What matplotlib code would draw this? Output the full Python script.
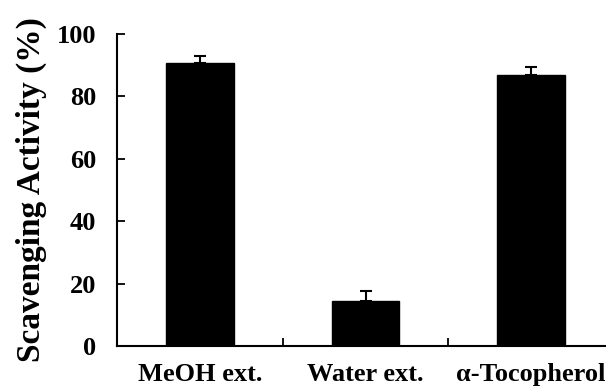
import numpy as np
import matplotlib.pyplot as plt

plt.rcParams['font.family'] = 'Liberation Serif'
plt.rcParams['font.weight'] = 'bold'

# Data
categories = ['MeOH ext.', 'Water ext.', '\u03b1-Tocopherol']
activity = [90.6, 14.3, 86.7]
errors = [2.2, 3.2, 2.8]
yticks = [0, 20, 40, 60, 80, 100]

fig = plt.figure(figsize=(6.06, 3.89), dpi=100)
# axes extends past the right edge, as in the cropped original
ax = fig.add_axes([117 / 606, 1 - 346 / 389, 497 / 606, 312 / 389])

x = np.arange(len(categories))
ax.bar(x, activity, width=0.41, color='black', edgecolor='black')
ax.errorbar(x, activity, yerr=[np.zeros(len(errors)), errors], fmt='none',
            ecolor='black', elinewidth=1.5, capsize=4, capthick=1.5)

ax.set_xlim(-0.5, 2.5)
ax.set_ylim(0, 100)
ax.set_yticks(yticks)
ax.set_xticks(x)
ax.set_xticklabels(categories, fontsize=19, fontweight='bold')
ax.set_xticks([0.5, 1.5], minor=True)
ax.tick_params(axis='x', which='major', length=0, pad=12)
ax.tick_params(axis='x', which='minor', direction='in', length=6, width=1.3)
ax.tick_params(axis='y', direction='in', length=6, width=1.3, labelsize=19, pad=15)
for lbl in ax.get_yticklabels():
    lbl.set_fontweight('bold')

ax.set_ylabel('Scavenging Activity (%)', fontsize=24, fontweight='bold', labelpad=7)

ax.spines['top'].set_visible(False)
ax.spines['right'].set_visible(False)
ax.spines['left'].set_linewidth(1.5)
ax.spines['bottom'].set_linewidth(1.5)

plt.savefig('out.png', dpi=100)
